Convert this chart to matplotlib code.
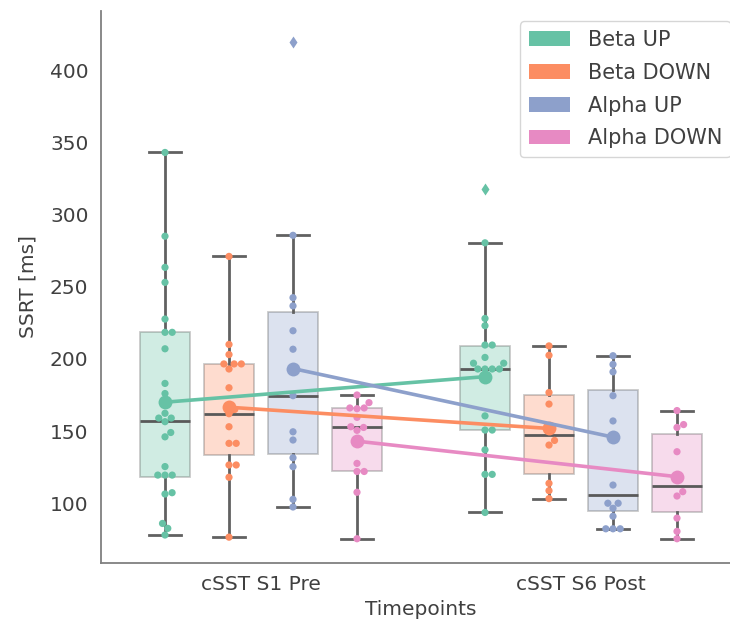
import numpy as np
import matplotlib
matplotlib.use("Agg")
import matplotlib.pyplot as plt
from matplotlib.patches import Patch

# categories
timepoints = ["cSST S1 Pre", "cSST S6 Post"]
groups = ["Beta UP", "Beta DOWN", "Alpha UP", "Alpha DOWN"]
colors = ["#66c2a5", "#fc8d62", "#8da0cb", "#e78ac3"]

# individual SSRT values [ms]
beta_up_pre = [343, 285, 263.4, 253, 227.6, 218.4, 218.4, 207, 183, 176, 162.3, 159, 159,
               156.5, 149, 146, 125.4, 119.5, 119.5, 119.5, 107.3, 106.4, 86, 82.6, 78]
beta_down_pre = [271, 210, 203, 196.5, 196.5, 196.5, 193, 180, 168, 165, 162, 153,
                 141.5, 141.5, 126.5, 126.5, 118, 76.5]
alpha_up_pre = [419.5, 285.6, 242.4, 236.7, 219.5, 206.7, 174.5, 149.5, 143.8, 131.5,
                125.3, 102.7, 97.4]
alpha_down_pre = [175, 169.7, 166, 166, 165.5, 159.5, 153, 152.5, 150.5, 127.6, 122, 122,
                  107.6, 75.4]
beta_up_post = [318, 280.4, 228, 223, 209.6, 209.6, 201, 197, 197, 193, 193, 193, 193,
                160.5, 150.7, 150.7, 137, 120, 120, 93.6]
beta_down_post = [209, 202.5, 176.7, 168.7, 152, 143.5, 140.3, 113.8, 108.7, 103.2]
alpha_up_post = [202.2, 196.2, 191, 174.5, 157, 112.6, 100, 100, 96.5, 91, 82.3, 82.3, 82.3]
alpha_down_post = [164.2, 154.5, 152.5, 135.7, 108, 105, 89.7, 80.5, 75.4]

# box statistics: whisker low, q1, median, q3, whisker high
box_low = [[78, 76.4, 97.4, 75.4], [93.6, 103.2, 82.3, 75.4]]
box_q1 = [[118.4, 133.4, 134, 122.2], [150.5, 120.2, 94.6, 93.7]]
box_med = [[157, 161.8, 174.5, 153], [193, 147.2, 106, 112.2]]
box_q3 = [[218.3, 196.3, 232.5, 165.7], [209.1, 175, 178.4, 147.9]]
box_high = [[343, 271.2, 285.6, 175], [280.4, 209, 202.2, 164.2]]

# group means (big dots + connecting lines)
means_pre = [170, 166.5, 193.3, 143]
means_post = [187.7, 151.8, 145.8, 118.4]

points = [[beta_up_pre, beta_down_pre, alpha_up_pre, alpha_down_pre],
          [beta_up_post, beta_down_post, alpha_up_post, alpha_down_post]]
means = [means_pre, means_post]

txt = "0.25"
plt.rcParams["font.family"] = "DejaVu Sans"
plt.rcParams["font.size"] = 14.5
plt.rcParams["text.color"] = txt
plt.rcParams["axes.labelcolor"] = txt
plt.rcParams["xtick.color"] = txt
plt.rcParams["ytick.color"] = txt

fig = plt.figure(figsize=(7.3, 6.24), dpi=100)
ax = fig.add_axes([101 / 730, 1 - 563 / 624, 640 / 730, 552 / 624])
ax.set_xlim(-0.5, 1.5)
ax.set_ylim(58.6, 441)

offsets = [-0.3, -0.1, 0.1, 0.3]
bw = 0.156


def swarm(xc, vals, d=7.2):
    # simple beeswarm in pixel space
    pix = ax.transData.transform(np.column_stack([np.full(len(vals), xc), vals]))
    order = np.argsort(pix[:, 1])
    placed = []
    xs = np.full(len(vals), xc, dtype=float)
    for i in order:
        x0, y = pix[i]
        cands = [x0]
        for px, py in placed:
            dy = abs(py - y)
            if dy < d:
                dx = np.sqrt(d * d - dy * dy)
                cands += [px + dx, px - dx]
        cands.sort(key=lambda c: abs(c - x0))
        for c in cands:
            if all((c - px) ** 2 + (y - py) ** 2 >= d * d - 1e-6 for px, py in placed):
                break
        placed.append((c, y))
        xs[i] = ax.transData.inverted().transform((c, y))[0]
    return xs


for t in range(len(timepoints)):
    for g in range(len(groups)):
        pos = t + offsets[g]
        vals = np.array(points[t][g])
        lo, hi = box_low[t][g], box_high[t][g]
        fl = vals[(vals < lo - 0.5) | (vals > hi + 0.5)]
        st = [dict(whislo=lo, q1=box_q1[t][g], med=box_med[t][g], q3=box_q3[t][g],
                   whishi=hi, fliers=fl)]
        ax.bxp(st, positions=[pos], widths=bw, capwidths=0.1, patch_artist=True,
               boxprops=dict(facecolor=colors[g], edgecolor="0.3", alpha=0.3, lw=1.3),
               whiskerprops=dict(color="0.38", lw=2),
               capprops=dict(color="0.38", lw=2),
               medianprops=dict(color="0.35", lw=2),
               flierprops=dict(marker="d", markerfacecolor=colors[g], markeredgecolor="none",
                               markersize=6.5),
               manage_ticks=False, zorder=2)
        inside = vals[(vals >= lo - 0.5) & (vals <= hi + 0.5)]
        xs = swarm(pos, inside)
        ax.scatter(xs, inside, s=27, color=colors[g], edgecolors="none", zorder=3)

for g in range(len(groups)):
    xm = [t + offsets[g] for t in range(len(timepoints))]
    ym = [means[t][g] for t in range(len(timepoints))]
    ax.plot(xm, ym, color=colors[g], lw=2.6, marker="o", markersize=10,
            markeredgecolor="none", zorder=4)

ax.set_xticks(range(len(timepoints)))
ax.set_xticklabels(timepoints)
ax.set_yticks([100, 150, 200, 250, 300, 350, 400])
ax.tick_params(length=0, pad=9)
ax.set_xlabel("Timepoints", labelpad=4)
ax.set_ylabel("SSRT [ms]", labelpad=9)

for s in ["top", "right"]:
    ax.spines[s].set_visible(False)
for s in ["left", "bottom"]:
    ax.spines[s].set_color("0.5")
    ax.spines[s].set_linewidth(1.3)

handles = [Patch(facecolor=c, edgecolor="none", label=l) for c, l in zip(colors, groups)]
leg = ax.legend(handles=handles, loc="upper right", fontsize=15, labelspacing=0.62,
                handlelength=2.0, handletextpad=0.85, borderaxespad=0.5, frameon=True)
leg.get_frame().set_edgecolor("0.8")

fig.savefig("out.png", dpi=100)
